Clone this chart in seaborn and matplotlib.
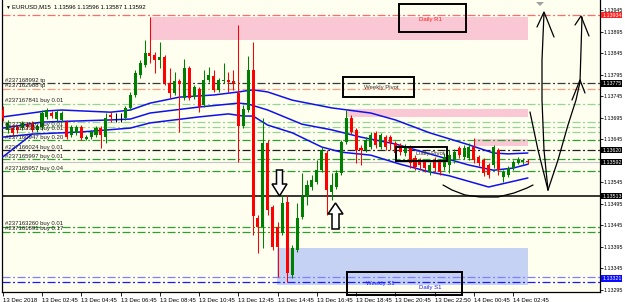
import numpy as np
import pandas as pd
import matplotlib
matplotlib.use("Agg")
import matplotlib.pyplot as plt
import matplotlib.transforms as mtransforms
from matplotlib.patches import Rectangle, Polygon
import seaborn as sns

sns.set_style("white")
plt.rcParams['font.family'] = ['Liberation Sans', 'DejaVu Sans']
plt.rcParams['lines.scale_dashes'] = False

# ---------------- data (EURUSD M15) ----------------
open_ = [1.13713, 1.13667, 1.13671, 1.13673, 1.13671, 1.13680, 1.13683, 1.13667, 1.13673, 1.13697,
         1.13706, 1.13692, 1.13690, 1.13685, 1.13655, 1.13660, 1.13673, 1.13646, 1.13650, 1.13655,
         1.13671, 1.13650, 1.13701, 1.13697, 1.13694, 1.13694, 1.13718, 1.13748, 1.13794, 1.13818,
         1.13846, 1.13841, 1.13829, 1.13836, 1.13776, 1.13753, 1.13780, 1.13741, 1.13811, 1.13743,
         1.13762, 1.13725, 1.13783, 1.13792, 1.13760, 1.13780, 1.13783, 1.13780, 1.13753, 1.13676,
         1.13713, 1.13806, 1.13462, 1.13441, 1.13636, 1.13487, 1.13441, 1.13427, 1.13499, 1.13329,
         1.13387, 1.13464, 1.13511, 1.13534, 1.13546, 1.13573, 1.13613, 1.13522, 1.13534, 1.13566,
         1.13639, 1.13694, 1.13667, 1.13625, 1.13620, 1.13627, 1.13660, 1.13627, 1.13650, 1.13650,
         1.13636, 1.13632, 1.13613, 1.13627, 1.13601, 1.13597, 1.13592, 1.13569, 1.13597, 1.13592,
         1.13580, 1.13585, 1.13597, 1.13625, 1.13604, 1.13601, 1.13627, 1.13604, 1.13597, 1.13585,
         1.13585, 1.13620, 1.13557, 1.13562, 1.13578, 1.13590, 1.13592, 1.13594]
high_ = [1.13722, 1.13690, 1.13678, 1.13678, 1.13687, 1.13685, 1.13687, 1.13680, 1.13713, 1.13718,
         1.13711, 1.13713, 1.13711, 1.13690, 1.13678, 1.13678, 1.13678, 1.13655, 1.13667, 1.13676,
         1.13676, 1.13706, 1.13708, 1.13706, 1.13706, 1.13722, 1.13755, 1.13806, 1.13829, 1.13876,
         1.13929, 1.13848, 1.13871, 1.13841, 1.13811, 1.13801, 1.13785, 1.13832, 1.13815, 1.13771,
         1.13767, 1.13806, 1.13813, 1.13806, 1.13787, 1.13822, 1.13801, 1.13806, 1.13911, 1.13725,
         1.13839, 1.13871, 1.13469, 1.13694, 1.13643, 1.13492, 1.13453, 1.13515, 1.13515, 1.13399,
         1.13497, 1.13566, 1.13550, 1.13562, 1.13597, 1.13627, 1.13620, 1.13566, 1.13573, 1.13643,
         1.13713, 1.13701, 1.13671, 1.13632, 1.13650, 1.13662, 1.13664, 1.13660, 1.13655, 1.13655,
         1.13641, 1.13636, 1.13634, 1.13632, 1.13608, 1.13601, 1.13597, 1.13592, 1.13604, 1.13599,
         1.13613, 1.13620, 1.13622, 1.13629, 1.13632, 1.13636, 1.13648, 1.13608, 1.13601, 1.13590,
         1.13632, 1.13625, 1.13573, 1.13583, 1.13597, 1.13604, 1.13601, 1.13599]
low_ = [1.13687, 1.13660, 1.13655, 1.13660, 1.13667, 1.13669, 1.13662, 1.13662, 1.13667, 1.13692,
        1.13694, 1.13687, 1.13685, 1.13646, 1.13650, 1.13655, 1.13643, 1.13643, 1.13646, 1.13650,
        1.13625, 1.13636, 1.13685, 1.13685, 1.13685, 1.13690, 1.13713, 1.13743, 1.13787, 1.13813,
        1.13822, 1.13799, 1.13811, 1.13771, 1.13741, 1.13748, 1.13662, 1.13736, 1.13736, 1.13739,
        1.13708, 1.13720, 1.13778, 1.13755, 1.13755, 1.13776, 1.13755, 1.13760, 1.13592, 1.13671,
        1.13708, 1.13422, 1.13380, 1.13392, 1.13469, 1.13387, 1.13325, 1.13422, 1.13313, 1.13322,
        1.13383, 1.13459, 1.13492, 1.13527, 1.13541, 1.13569, 1.13469, 1.13504, 1.13529, 1.13562,
        1.13634, 1.13657, 1.13590, 1.13585, 1.13615, 1.13622, 1.13625, 1.13622, 1.13620, 1.13620,
        1.13601, 1.13608, 1.13606, 1.13578, 1.13573, 1.13573, 1.13569, 1.13562, 1.13569, 1.13562,
        1.13573, 1.13566, 1.13590, 1.13601, 1.13599, 1.13597, 1.13590, 1.13583, 1.13560, 1.13555,
        1.13578, 1.13562, 1.13546, 1.13557, 1.13573, 1.13587, 1.13587, 1.13587]
close_ = [1.13694, 1.13683, 1.13660, 1.13667, 1.13683, 1.13673, 1.13667, 1.13676, 1.13706, 1.13713,
          1.13699, 1.13708, 1.13706, 1.13650, 1.13673, 1.13673, 1.13648, 1.13650, 1.13662, 1.13671,
          1.13655, 1.13694, 1.13697, 1.13697, 1.13694, 1.13718, 1.13748, 1.13799, 1.13822, 1.13846,
          1.13839, 1.13829, 1.13836, 1.13776, 1.13753, 1.13780, 1.13774, 1.13811, 1.13741, 1.13767,
          1.13720, 1.13783, 1.13794, 1.13760, 1.13783, 1.13783, 1.13778, 1.13776, 1.13676, 1.13715,
          1.13806, 1.13466, 1.13441, 1.13636, 1.13480, 1.13394, 1.13394, 1.13497, 1.13334, 1.13392,
          1.13462, 1.13511, 1.13539, 1.13550, 1.13573, 1.13620, 1.13527, 1.13539, 1.13566, 1.13639,
          1.13694, 1.13662, 1.13620, 1.13620, 1.13643, 1.13655, 1.13632, 1.13655, 1.13627, 1.13636,
          1.13613, 1.13615, 1.13627, 1.13590, 1.13580, 1.13585, 1.13578, 1.13585, 1.13578, 1.13569,
          1.13604, 1.13608, 1.13615, 1.13608, 1.13625, 1.13627, 1.13597, 1.13590, 1.13566, 1.13562,
          1.13627, 1.13573, 1.13569, 1.13578, 1.13592, 1.13597, 1.13597, 1.13592]

# band indicator lines (bar index, price)
band_bar_upper = [0, 9, 12, 22, 26, 30, 36, 43, 48, 51, 54, 59, 67, 75, 80, 87, 95, 100, 103, 107]
band_upper = [1.13697, 1.13711, 1.13713, 1.13708, 1.13713, 1.13729, 1.13743, 1.13748, 1.13755, 1.13760,
              1.13755, 1.13736, 1.13718, 1.13706, 1.13690, 1.13660, 1.13632, 1.13613, 1.13611, 1.13613]
band_bar_middle = [0, 8, 22, 26, 30, 40, 48, 50, 54, 61, 67, 73, 80, 87, 95, 100, 104, 107]
band_middle = [1.13671, 1.13685, 1.13690, 1.13692, 1.13706, 1.13720, 1.13729, 1.13727, 1.13713, 1.13680,
               1.13667, 1.13650, 1.13634, 1.13611, 1.13585, 1.13573, 1.13578, 1.13587]
band_bar_lower = [0, 6, 16, 26, 30, 40, 46, 49, 51, 54, 59, 65, 69, 75, 81, 87, 91, 99, 107]
band_lower = [1.13650, 1.13657, 1.13662, 1.13671, 1.13683, 1.13697, 1.13704, 1.13699, 1.13699, 1.13678,
              1.13660, 1.13627, 1.13615, 1.13608, 1.13587, 1.13569, 1.13560, 1.13534, 1.13555]
band_bar_extra = [0, 3, 6]
band_extra = [1.13604, 1.13630, 1.13657]

# horizontal levels
level_price = [1.13934, 1.13775, 1.13762, 1.13727, 1.13685, 1.13673, 1.13662, 1.13643, 1.13620,
               1.13599, 1.13592, 1.13571, 1.13513, 1.13441, 1.13430, 1.13325, 1.13313]
level_color = ['#ff6a6a', '#383838', '#ff9a7a', '#94d494', '#94d494', '#94d494', '#94d494', '#2e9e2e',
               '#202020', '#2e9e2e', '#c4c4c4', '#2e9e2e', '#000000', '#2e9e2e', '#2e9e2e', '#8080ff',
               '#1a1aff']
level_solid = [False, False, False, False, False, False, False, False, False, False, True, False, True,
               False, False, False, False]

# order labels
order_text = ["#237168992 tp", "#237162988 tp", "#237167841 buy 0.01", "#237163510 buy 0.01",
              "#237162330 buy 0.01", "#237160947 buy 0.20", "#237166024 buy 0.01",
              "#237165997 buy 0.01", "#237165957 buy 0.04", "#237163260 buy 0.01",
              "#237161891 buy 0.17"]
order_price = [1.13775, 1.13762, 1.13727, 1.13673, 1.13662, 1.13643, 1.13620, 1.13599, 1.13571,
               1.13441, 1.13430]

# zones (bar start, bar end, top, bottom)
zone_start = [30.0, 70.2, 96.1, 55.9]
zone_end = [107.1, 107.1, 107.1, 107.1]
zone_top = [1.13930, 1.13715, 1.13646, 1.13392]
zone_bottom = [1.13877, 1.13697, 1.13629, 1.13306]
zone_color = ['#f9c8d4', '#f9c8d4', '#f9c8d4', '#c6d2f4']

# axis labels
ytick_vals = [1.13945, 1.13895, 1.13845, 1.13795, 1.13745, 1.13695, 1.13645, 1.13545, 1.13495,
              1.13445, 1.13395, 1.13345, 1.13295]
price_tags = [1.13934, 1.13775, 1.13620, 1.13592, 1.13513, 1.13321]
price_tag_color = ['#ff2020', '#000000', '#000000', '#000000', '#000000', '#0a0aff']
xtick_bars = [0, 8, 16, 24, 32, 40, 48, 56, 64, 72, 80, 88, 96, 104]
xtick_labels = ["13 Dec 2018", "13 Dec 02:45", "13 Dec 04:45", "13 Dec 06:45", "13 Dec 08:45",
                "13 Dec 10:45", "13 Dec 12:45", "13 Dec 14:45", "13 Dec 16:45", "13 Dec 18:45",
                "13 Dec 20:45", "13 Dec 22:50", "14 Dec 00:45", "14 Dec 02:45"]
title_text = "EURUSD,M15  1.13596 1.13596 1.13587 1.13592"

# ---------------- figure ----------------
W, H = 625, 302
fig = plt.figure(figsize=(W / 100, H / 100), dpi=100)
fig.patch.set_facecolor('white')
ax = fig.add_axes([2 / W, 10 / H, 598 / W, 292 / H])
ax.set_facecolor('#fffff0')
ax.set_xlim(-0.15, 121.7)
ax.set_ylim(1.132898, 1.139689)
pix = mtransforms.Affine2D().scale(1 / W, -1 / H).translate(0, 1) + fig.transFigure

FS = 4.3
FS_AX = 3.8
DASHDOT = (0, (5.8, 1.8, 1.4, 1.8))

# zones
for s, e, t, b, col in zip(zone_start, zone_end, zone_top, zone_bottom, zone_color):
    ax.add_patch(Rectangle((s, b), e - s, t - b, facecolor=col, edgecolor='none', zorder=0.5))

# levels
for p, col, solid in zip(level_price, level_color, level_solid):
    ax.axhline(p, color=col, lw=0.9 if not solid else (1.1 if col == '#000000' else 0.8),
               linestyle='-' if solid else DASHDOT, zorder=1)

# order labels
for t, p in zip(order_text, order_price):
    ax.text(0.5, p + 0.000012, t, fontsize=FS, color='#202020', va='bottom', ha='left', zorder=5)

# bands via seaborn
band_df = pd.concat([
    pd.DataFrame({'bar': band_bar_upper, 'price': band_upper, 'band': 'upper'}),
    pd.DataFrame({'bar': band_bar_middle, 'price': band_middle, 'band': 'middle'}),
    pd.DataFrame({'bar': band_bar_lower, 'price': band_lower, 'band': 'lower'}),
    pd.DataFrame({'bar': band_bar_extra, 'price': band_extra, 'band': 'extra'}),
])
sns.lineplot(data=band_df, x='bar', y='price', hue='band', palette=['#1010ee'] * 4,
             estimator=None, sort=False, legend=False, lw=1.1, ax=ax, zorder=3)

# candles
o = np.array(open_); c = np.array(close_); hi = np.array(high_); lo = np.array(low_)
bars = np.arange(len(o))
doji = np.abs(c - o) < 0.000005
col = np.where(doji, '#000000', np.where(c > o, '#008000', '#ff0000'))
ax.vlines(bars, lo, hi, colors=col, lw=0.75, zorder=4)
body = np.where(doji, 0.000012, c - o)
base = np.where(doji, o - 0.000006, o)
ax.bar(bars, body, bottom=base, width=0.62, color=col, linewidth=0, zorder=4)

# boxes with labels
boxes = [(399, 4, 466, 32), (343, 77, 414, 97), (396, 147, 447, 161), (347, 272, 462, 295)]
for x0, y0, x1, y1 in boxes:
    ax.add_patch(Rectangle((x0, y0), x1 - x0, y1 - y0, transform=pix, fill=False,
                           edgecolor='black', lw=1.4, zorder=6, clip_on=False))
box_text = [("Daily R1", 430, 20, '#ff2020'), ("Weekly Pivot", 381, 87, '#303030'),
            ("Daily Pivot", 430, 154, '#303030'), ("Weekly S1", 380, 283, '#2020ff'),
            ("Daily S1", 430, 287, '#2020ff')]
for t, x, y, cc in box_text:
    ax.text(x, y, t, transform=pix, fontsize=FS, color=cc, ha='center', va='center', zorder=6,
            clip_on=False)

# arrows (white with black outline)
down_arrow = [(276.5, 170), (282.5, 170), (282.5, 184), (287, 184), (279.5, 196), (272, 184), (276.5, 184)]
up_arrow = [(335.5, 203), (343, 214), (339, 214), (339, 229), (332, 229), (332, 214), (328, 214)]
for poly in (down_arrow, up_arrow):
    ax.add_patch(Polygon(poly, closed=True, transform=pix, facecolor='white', edgecolor='black',
                         lw=1.1, zorder=7))

# hand-drawn strokes
strokes = [
    [(443, 185), (452, 190), (465, 195), (480, 197), (498, 197), (514, 193), (527, 188), (533, 185)],
    [(548, 190), (544, 150), (542, 100), (542, 60), (544, 13)],
    [(537, 27), (544, 12), (554, 37)],
    [(548, 190), (558, 160), (568, 125), (576, 100), (580, 82), (581, 50), (582, 17)],
    [(575, 25), (581, 16), (589, 36)],
    [(572, 100), (580, 80), (585, 93)],
    [(530, 112), (538, 150), (548, 190)],
]
for s in strokes:
    xs, ys = zip(*s)
    ax.plot(xs, ys, transform=pix, color='black', lw=0.9, zorder=7, clip_on=False,
            solid_capstyle='round', solid_joinstyle='round')
ax.add_patch(Polygon([(536, 2), (544, 2), (540, 6)], closed=True, transform=pix,
                     facecolor='#a0a0a0', edgecolor='none', zorder=7, clip_on=False))

# title
fig.text(5 / W, 1 - 7 / H, "\u25bc", fontsize=3.5, color='black', va='center', ha='left')
fig.text(12 / W, 1 - 7 / H, title_text, fontsize=FS, color='black', va='center', ha='left')

# axes styling
ax.spines['top'].set_visible(False)
for side in ['left', 'bottom', 'right']:
    ax.spines[side].set_color('black')
    ax.spines[side].set_linewidth(0.9)
ax.yaxis.tick_right()
ax.set_yticks(ytick_vals)
ax.set_yticklabels([f"{v:.5f}" for v in ytick_vals])
ax.tick_params(axis='y', right=True, left=False, length=2.0, width=0.6, pad=0.6,
               labelsize=FS_AX, colors='black')
ax.set_xticks(xtick_bars)
ax.set_xticklabels(xtick_labels)
for lab in ax.get_xticklabels():
    lab.set_horizontalalignment('left')
ax.tick_params(axis='x', bottom=True, length=3, width=0.6, pad=1.0, labelsize=FS, colors='black')
ax.set_xlabel('')
ax.set_ylabel('')

# price tags on right axis
tag_tr = mtransforms.blended_transform_factory(ax.transAxes, ax.transData)
for p, cc in zip(price_tags, price_tag_color):
    ax.text(1.0035, p, f"{p:.5f}", transform=tag_tr,
            fontsize=FS_AX, color='white', va='center', ha='left', zorder=8, clip_on=False,
            bbox=dict(boxstyle='square,pad=0.15', facecolor=cc, edgecolor='none'))

fig.savefig('out.png', dpi=100, facecolor=fig.get_facecolor())
